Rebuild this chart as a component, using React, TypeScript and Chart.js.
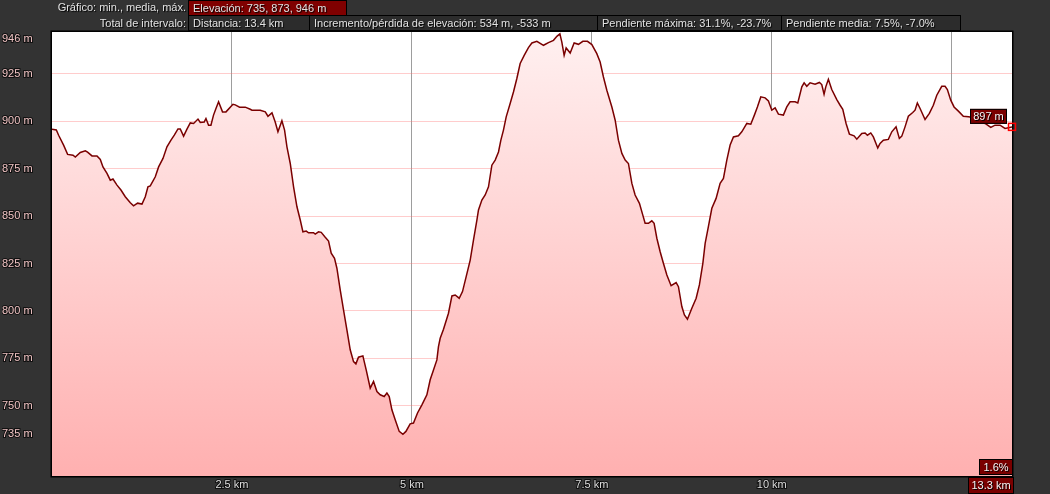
import React, { useEffect, useRef } from 'react';
import { Chart, registerables } from 'chart.js';

Chart.register(...registerables);

const distanceKm = [
  0, 0.060, 0.092, 0.161, 0.217, 0.292, 0.324, 0.393, 0.463, 0.494,
  0.556, 0.625, 0.671, 0.708, 0.764, 0.810, 0.847, 0.903, 0.958, 1.018,
  1.088, 1.133, 1.189, 1.250, 1.296, 1.333, 1.365, 1.435, 1.481, 1.542,
  1.597, 1.653, 1.699, 1.750, 1.782, 1.828, 1.875, 1.921, 1.967, 2.028,
  2.060, 2.115, 2.139, 2.175, 2.208, 2.244, 2.278, 2.314, 2.369, 2.417,
  2.514, 2.546, 2.606, 2.685, 2.754, 2.778, 2.893, 2.963, 3.000, 3.056,
  3.101, 3.139, 3.194, 3.231, 3.264, 3.310, 3.356, 3.403, 3.449, 3.486,
  3.532, 3.564, 3.633, 3.657, 3.703, 3.740, 3.796, 3.842, 3.879, 3.925,
  3.958, 4.004, 4.050, 4.097, 4.143, 4.189, 4.222, 4.258, 4.319, 4.365,
  4.421, 4.467, 4.514, 4.560, 4.615, 4.653, 4.685, 4.722, 4.768, 4.824,
  4.875, 4.917, 4.976, 5.022, 5.078, 5.139, 5.208, 5.254, 5.300, 5.347,
  5.369, 5.393, 5.439, 5.508, 5.556, 5.601, 5.657, 5.703, 5.754, 5.810,
  5.856, 5.903, 5.925, 5.972, 6.018, 6.064, 6.111, 6.157, 6.203, 6.236,
  6.272, 6.310, 6.365, 6.411, 6.458, 6.504, 6.560, 6.619, 6.667, 6.736,
  6.828, 6.897, 6.967, 7.014, 7.056, 7.083, 7.115, 7.143, 7.199, 7.254,
  7.314, 7.375, 7.439, 7.500, 7.569, 7.615, 7.661, 7.708, 7.778, 7.824,
  7.869, 7.917, 7.963, 8.008, 8.056, 8.101, 8.161, 8.208, 8.240, 8.286,
  8.333, 8.365, 8.403, 8.449, 8.494, 8.542, 8.601, 8.671, 8.703, 8.750,
  8.786, 8.828, 8.889, 8.949, 8.994, 9.042, 9.074, 9.119, 9.167, 9.226,
  9.282, 9.328, 9.375, 9.421, 9.467, 9.536, 9.583, 9.653, 9.708, 9.758,
  9.800, 9.847, 9.907, 9.953, 10.000, 10.046, 10.092, 10.161, 10.208, 10.254,
  10.324, 10.361, 10.417, 10.449, 10.486, 10.532, 10.601, 10.661, 10.694, 10.726,
  10.750, 10.786, 10.833, 10.903, 10.949, 10.986, 11.032, 11.078, 11.143, 11.181,
  11.250, 11.296, 11.328, 11.375, 11.411, 11.472, 11.504, 11.550, 11.619, 11.667,
  11.726, 11.772, 11.806, 11.851, 11.897, 11.958, 11.990, 12.022, 12.060, 12.129,
  12.189, 12.244, 12.292, 12.361, 12.407, 12.439, 12.486, 12.532, 12.592, 12.661,
  12.731, 12.800, 12.963, 13.042, 13.101, 13.171, 13.240, 13.337,
];

const elevationM = [
  895.8, 895.4, 892.6, 887.4, 882.5, 882.1, 881.1, 883.5, 884.4, 883.7,
  881.7, 881.6, 879.8, 875.9, 872.5, 868.9, 869.5, 866.3, 863.7, 860.2,
  857.0, 855.4, 856.8, 856.3, 860.2, 865.4, 865.9, 870.7, 875.9, 880.4,
  886.5, 890.0, 892.6, 895.9, 895.9, 892.1, 895.8, 899.1, 898.8, 901.1,
  899.3, 899.6, 901.4, 897.9, 897.9, 903.2, 906.7, 910.2, 904.9, 904.9,
  908.9, 908.6, 907.4, 907.4, 906.3, 905.8, 905.8, 904.9, 902.6, 904.4,
  899.6, 894.4, 900.2, 895.3, 886.5, 877.7, 865.4, 854.9, 847.9, 841.7,
  842.1, 841.2, 841.2, 840.5, 841.7, 841.4, 838.8, 836.8, 830.4, 827.7,
  822.5, 811.1, 800.5, 790.0, 779.5, 773.3, 772.1, 775.6, 776.3, 768.9,
  759.3, 762.8, 757.5, 755.8, 754.9, 756.7, 754.9, 747.9, 742.6, 736.5,
  735.0, 736.5, 740.5, 740.9, 746.2, 750.5, 755.8, 763.7, 768.9, 774.2,
  781.2, 785.6, 790.4, 798.8, 807.9, 808.4, 806.7, 810.2, 818.1, 826.8,
  837.4, 847.9, 853.2, 858.4, 861.1, 865.4, 876.8, 879.5, 883.8, 890.0,
  895.3, 902.3, 909.3, 915.4, 922.5, 930.4, 934.7, 938.8, 941.2, 942.1,
  940.0, 941.4, 942.6, 944.7, 946.0, 941.7, 934.7, 938.6, 935.9, 941.2,
  940.5, 942.1, 942.1, 940.4, 935.6, 931.2, 923.3, 916.3, 907.5, 900.5,
  890.0, 883.0, 879.5, 877.7, 867.2, 861.1, 856.7, 850.5, 846.2, 846.2,
  847.5, 846.2, 838.3, 831.2, 825.1, 818.9, 813.3, 814.9, 812.8, 802.3,
  797.9, 795.6, 801.4, 806.7, 813.7, 825.1, 835.6, 844.4, 854.1, 859.3,
  867.2, 869.8, 879.5, 887.4, 891.7, 892.3, 894.4, 898.8, 898.4, 903.2,
  907.5, 912.8, 912.3, 910.7, 905.8, 907.0, 903.7, 903.2, 907.5, 910.2,
  910.2, 909.6, 918.1, 920.2, 918.4, 920.2, 919.5, 920.4, 919.3, 914.2,
  918.1, 922.1, 916.7, 911.4, 908.4, 906.3, 898.8, 893.2, 892.3, 890.5,
  893.5, 893.8, 892.6, 893.8, 891.7, 885.9, 888.3, 890.0, 890.4, 894.4,
  897.0, 890.9, 892.1, 897.0, 902.6, 904.6, 905.8, 909.6, 906.7, 900.9,
  904.1, 908.4, 913.7, 918.4, 918.4, 916.7, 911.1, 907.5, 905.3, 902.6,
  902.3, 901.9, 898.8, 896.7, 897.9, 897.9, 896.2, 897.0,
];

const yTickValues = [946, 925, 900, 875, 850, 825, 800, 775, 750, 735];
const xTickValues = [2.5, 5, 7.5, 10, 12.5];
const xTickLabels = ['2.5 km', '5 km', '7.5 km', '10 km', ''];

const summaryLabel = 'Gráfico: min., media, máx.';
const elevationSummary = 'Elevación: 735, 873, 946 m';
const intervalLabel = 'Total de intervalo:';
const intervalStats = [
  'Distancia: 13.4 km',
  'Incremento/pérdida de elevación: 534 m, -533 m',
  'Pendiente máxima: 31.1%, -23.7%',
  'Pendiente media: 7.5%, -7.0%',
];
const cursorSlope = '1.6%';

const FONT = '"Liberation Sans", Arial, sans-serif';

const statBoxes = [
  { left: 188, width: 122 },
  { left: 309, width: 289 },
  { left: 597, width: 185 },
  { left: 781, width: 179 },
];

function drawBox(ctx: CanvasRenderingContext2D, text: string, x: number, y: number, w: number, h: number) {
  ctx.fillStyle = '#7a0000';
  ctx.fillRect(x, y, w, h);
  ctx.strokeStyle = '#000';
  ctx.lineWidth = 1;
  ctx.strokeRect(x + 0.5, y + 0.5, w - 1, h - 1);
  ctx.font = `11px ${FONT}`;
  ctx.textAlign = 'center';
  ctx.textBaseline = 'middle';
  ctx.fillStyle = '#000';
  ctx.fillText(text, x + w / 2 + 1, y + h / 2 + 1.5);
  ctx.fillStyle = '#f4f4f4';
  ctx.fillText(text, x + w / 2, y + h / 2 + 0.5);
}

const decorPlugin = {
  id: 'decor',
  beforeDraw(chart: any) {
    const { ctx, chartArea } = chart;
    ctx.save();
    ctx.fillStyle = '#333333';
    ctx.fillRect(0, 0, chart.width, chart.height);
    ctx.fillStyle = '#ffffff';
    ctx.fillRect(chartArea.left, chartArea.top, chartArea.right - chartArea.left, chartArea.bottom - chartArea.top);
    ctx.restore();
  },
  afterDraw(chart: any) {
    const { ctx, chartArea } = chart;
    const xs = chart.scales.x;
    const ys = chart.scales.y;
    ctx.save();
    ctx.strokeStyle = '#000';
    ctx.lineWidth = 1.5;
    ctx.strokeRect(chartArea.left - 0.75, chartArea.top - 0.75, chartArea.right - chartArea.left + 1.5, chartArea.bottom - chartArea.top + 1.5);

    const last = distanceKm.length - 1;
    const px = xs.getPixelForValue(distanceKm[last]);
    const py = ys.getPixelForValue(elevationM[last]);

    ctx.font = `11px ${FONT}`;
    const elevText = `${Math.round(elevationM[last])} m`;
    const ew = Math.ceil(ctx.measureText(elevText).width) + 6;
    drawBox(ctx, elevText, px - 5 - ew, py - 18, ew, 15);

    const sw = Math.ceil(ctx.measureText(cursorSlope).width) + 8;
    drawBox(ctx, cursorSlope, chartArea.right + 1 - sw, chartArea.bottom - 17, sw, 16);

    const kmText = `${distanceKm[last].toFixed(1)} km`;
    const kw = Math.ceil(ctx.measureText(kmText).width) + 6;
    drawBox(ctx, kmText, chartArea.right + 2 - kw, chartArea.bottom + 1, kw, 17);

    ctx.strokeStyle = '#ff0000';
    ctx.lineWidth = 1.5;
    ctx.strokeRect(px - 3.5, py - 3.5, 7, 7);
    ctx.restore();
  },
};

export default function App() {
  const canvasRef = useRef<HTMLCanvasElement | null>(null);

  useEffect(() => {
    if (!canvasRef.current) return;
    const points = distanceKm.map((x, i) => ({ x, y: elevationM[i] }));
    const chart = new Chart(canvasRef.current, {
      type: 'line',
      data: {
        datasets: [
          {
            data: points,
            borderColor: '#7a0000',
            borderWidth: 1.5,
            pointRadius: 0,
            tension: 0,
            fill: 'start',
            backgroundColor: (context: any) => {
              const { ctx, chartArea } = context.chart;
              if (!chartArea) return 'rgba(255,200,200,1)';
              const g = ctx.createLinearGradient(0, chartArea.top, 0, chartArea.bottom);
              g.addColorStop(0, '#fff0f0');
              g.addColorStop(1, '#ffb0b0');
              return g;
            },
          },
        ],
      },
      options: {
        animation: false,
        responsive: false,
        events: [],
        layout: { padding: { left: 2, top: 32, right: 38, bottom: 0 } },
        plugins: {
          legend: { display: false },
          tooltip: { enabled: false },
        },
        scales: {
          x: {
            type: 'linear',
            min: 0,
            max: distanceKm[distanceKm.length - 1],
            z: 1,
            afterBuildTicks: (scale: any) => {
              scale.ticks = xTickValues.map((v) => ({ value: v }));
            },
            afterFit: (scale: any) => {
              scale.height = 18;
            },
            ticks: {
              autoSkip: false,
              maxRotation: 0,
              padding: 2,
              color: '#dddddd',
              textStrokeColor: 'rgba(0,0,0,0.7)',
              textStrokeWidth: 2,
              font: { family: FONT, size: 11 },
              callback: (_v: any, i: number) => xTickLabels[i],
            },
            grid: { color: 'rgba(60,60,60,0.5)', lineWidth: 1, drawTicks: false },
            border: { display: false },
          },
          y: {
            type: 'linear',
            min: 713,
            max: 947,
            z: 1,
            afterBuildTicks: (scale: any) => {
              scale.ticks = yTickValues.map((v) => ({ value: v }));
            },
            afterFit: (scale: any) => {
              scale.width = 50;
            },
            ticks: {
              autoSkip: false,
              crossAlign: 'far',
              padding: 0,
              color: '#f0c4c4',
              textStrokeColor: 'rgba(0,0,0,0.7)',
              textStrokeWidth: 2,
              font: { family: FONT, size: 11, lineHeight: 1 },
              callback: (v: any) => (v === 946 ? ['', `${v} m`] : `${v} m`),
            },
            grid: {
              color: (c: any) => (c.tick && c.tick.value === 946 ? 'rgba(0,0,0,0)' : 'rgba(255,110,110,0.35)'),
              lineWidth: 1,
              drawTicks: false,
            },
            border: { display: false },
          },
        },
      },
      plugins: [decorPlugin],
    } as any);
    return () => chart.destroy();
  }, []);

  const textStyle: React.CSSProperties = {
    position: 'absolute',
    fontFamily: FONT,
    fontSize: 11,
    color: '#e2e2e2',
    textShadow: '1px 1px 1px #000',
    whiteSpace: 'nowrap',
    boxSizing: 'border-box',
  };

  return (
    <div style={{ position: 'absolute', left: 0, top: 0, width: 1050, height: 494, background: '#333333', overflow: 'hidden' }}>
      <canvas ref={canvasRef} width={1050} height={494} style={{ position: 'absolute', left: 0, top: 0, width: 1050, height: 494 }} />
      <div style={{ ...textStyle, right: 864, top: 0, height: 15, lineHeight: '15px', textAlign: 'right' }}>{summaryLabel}</div>
      <div style={{ ...textStyle, left: 188, top: 0, width: 159, height: 16, lineHeight: '14px', background: '#800000', border: '1px solid #000', paddingLeft: 4 }}>{elevationSummary}</div>
      <div style={{ ...textStyle, right: 864, top: 15, height: 16, lineHeight: '16px', textAlign: 'right' }}>{intervalLabel}</div>
      {intervalStats.map((s, i) => (
        <div key={i} style={{ ...textStyle, left: statBoxes[i].left, top: 15, width: statBoxes[i].width + 1, height: 16, lineHeight: '14px', background: '#2c2c2c', border: '1px solid #000', paddingLeft: 4 }}>{s}</div>
      ))}
    </div>
  );
}
